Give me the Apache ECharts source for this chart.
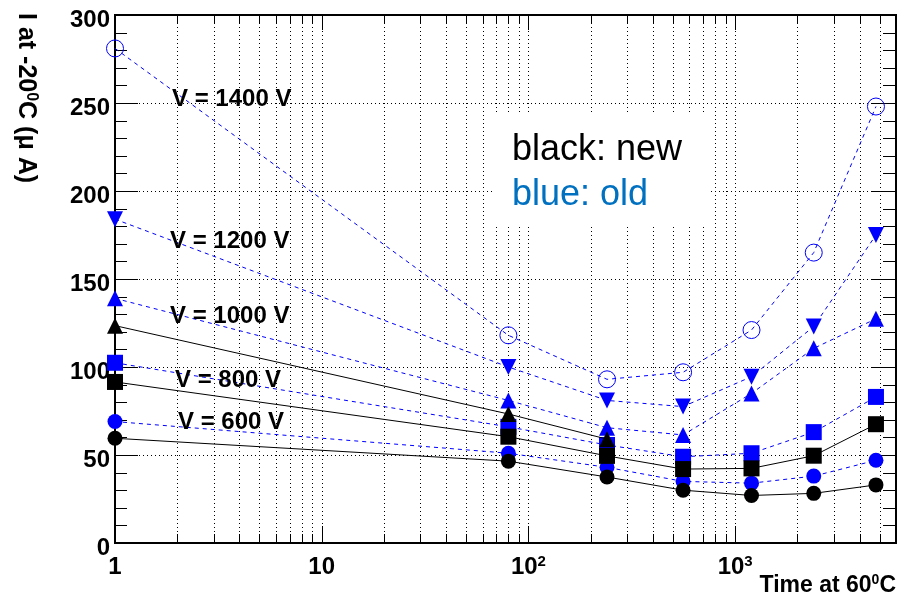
<!DOCTYPE html>
<html>
<head>
<meta charset="utf-8">
<script src="https://cdn.jsdelivr.net/npm/echarts@6/dist/echarts.min.js"></script>
<style>
html,body{margin:0;padding:0;background:#fff;}
#chart{width:899px;height:605px;}
</style>
</head>
<body>
<div id="chart"></div>
<script>
// ---- data ----
const times = [1, 80, 240, 560, 1200, 2400, 4800];
const timesNew1000 = [1, 80, 240];

// old sensors (blue)
const old1400 = [281, 118, 93, 97, 121, 165, 248];
const old1200 = [184, 100, 81, 77.5, 94.5, 123, 175];
const old1000 = [139, 81, 65.5, 61.4, 85, 110.6, 127.4];
const old800  = [102.4, 66, 55.7, 49, 51, 63, 83];
const old600  = [69, 51, 43, 35, 34, 38, 47];

// new sensors (black)
const new1000 = [123.5, 73.3, 59];
const new800  = [91.5, 60.4, 49.5, 42, 42.4, 49.6, 67.5];
const new600  = [59.5, 46.5, 37.5, 30, 27, 28.2, 33];

const voltageLabels = ['V = 1400 V', 'V = 1200 V', 'V = 1000 V', 'V = 800 V', 'V = 600 V'];
const legendLines = ['black: new', 'blue: old'];
const xTitle = 'Time at 60';
const yTitle = 'I at -20';

// ---- helpers ----
const FONT = '"Liberation Sans", Arial, Helvetica, sans-serif';
const BLUE = '#0000ff';
function pairs(xs, ys){ return ys.map((y,i)=>[xs[i], y]); }

// tick positions (decoration)
const xTicks = [];
for (let e = 0; e <= 3; e++) {
  for (let m = 1; m <= 9; m++) {
    const v = m * Math.pow(10, e);
    if (v === 1 || v > 6000) continue;
    xTicks.push([v, 100, m === 1 ? 1 : 0]);
  }
}
const yTicks = [];
for (let v = 10; v < 300; v += 10) yTicks.push([1, v, v % 50 === 0 ? 1 : 0]);

function px(v){ return Math.round(v) + 0.5; }

function renderXGrid(params, api){
  const cs = params.coordSys;
  const x = px(api.coord([api.value(0), 100])[0]);
  const major = api.value(2);
  const top = cs.y, bot = cs.y + cs.height;
  const lb = major ? 17 : 9, lt = major ? 15 : 8;
  return {type:'group', children:[
    {type:'line', shape:{x1:x,y1:top,x2:x,y2:bot}, style:{stroke:'#000', lineWidth:1, lineDash:[1,3]}},
    {type:'line', shape:{x1:x,y1:bot,x2:x,y2:bot-lb}, style:{stroke:'#000', lineWidth:1}},
    {type:'line', shape:{x1:x,y1:top,x2:x,y2:top+lt}, style:{stroke:'#000', lineWidth:1}}
  ]};
}
function renderYGrid(params, api){
  const cs = params.coordSys;
  const y = px(api.coord([1, api.value(1)])[1]);
  const major = api.value(2);
  const l = cs.x, r = cs.x + cs.width;
  const ll = major ? 23 : 12, lr = major ? 25 : 13;
  const ch = [
    {type:'line', shape:{x1:l,y1:y,x2:l+ll,y2:y}, style:{stroke:'#000', lineWidth:1}},
    {type:'line', shape:{x1:r,y1:y,x2:r-lr,y2:y}, style:{stroke:'#000', lineWidth:1}}
  ];
  if (major) ch.unshift({type:'line', shape:{x1:l,y1:y,x2:r,y2:y}, style:{stroke:'#000', lineWidth:1, lineDash:[1,3]}});
  return {type:'group', children: ch};
}

function oldSeries(name, data, symbol, size, rotate, empty){
  return {
    name, type:'line', data: pairs(times, data), symbol, symbolSize: size, symbolRotate: rotate||0,
    clip:false, z:3,
    lineStyle:{color:BLUE, width:1, type:[4,4]},
    itemStyle: empty ? {color:'rgba(0,0,0,0)', borderColor:BLUE, borderWidth:1} : {color:BLUE},
    emphasis:{disabled:true}
  };
}
function newSeries(name, xs, data, symbol, size){
  return {
    name, type:'line', data: pairs(xs, data), symbol, symbolSize: size,
    clip:false, z:4,
    lineStyle:{color:'#000', width:1},
    itemStyle:{color:'#000'},
    emphasis:{disabled:true}
  };
}

const supRich = {
  b: {fontFamily:FONT, fontWeight:'bold', fontSize:24, color:'#000', verticalAlign:'bottom', lineHeight:26},
  s: {fontFamily:FONT, fontWeight:'bold', fontSize:15, color:'#000', verticalAlign:'bottom', padding:[0,0,10,0], lineHeight:26}
};

const vLabelPos = [[172,99],[170,241],[170,316],[175,380],[178,422]];

const chart = echarts.init(document.getElementById('chart'), null, {renderer:'canvas'});
chart.setOption({
  animation:false,
  backgroundColor:'#fff',
  grid:{left:115, right:3, top:15, bottom:62, show:true, borderColor:'#000', borderWidth:2, backgroundColor:'transparent'},
  xAxis:{
    type:'log', logBase:10, min:1, max:6000,
    axisLine:{show:false}, axisTick:{show:false}, splitLine:{show:false},
    axisLabel:{
      margin:10, showMaxLabel:false,
      formatter:function(v){
        const e = Math.round(Math.log10(v));
        if (e === 0) return '{b|1}';
        if (e === 1) return '{b|10}';
        return '{b|10}{s|' + e + '}';
      },
      rich: supRich
    }
  },
  yAxis:{
    type:'value', min:0, max:300, interval:50,
    axisLine:{show:false}, axisTick:{show:false}, splitLine:{show:false},
    axisLabel:{
      margin:5,
      formatter:function(v){ return '{a|' + v + '}'; },
      rich:{a:{fontFamily:FONT, fontWeight:'bold', fontSize:24, color:'#000', padding:[11,0,0,0]}}
    }
  },
  series:[
    {type:'custom', renderItem:renderXGrid, data:xTicks, encode:{x:0,y:1}, z:1, silent:true, clip:false},
    {type:'custom', renderItem:renderYGrid, data:yTicks, encode:{x:0,y:1}, z:1, silent:true, clip:false},
    oldSeries('old 1400', old1400, 'circle', 17, 0, true),
    oldSeries('old 1200', old1200, 'triangle', 16, 180),
    oldSeries('old 1000', old1000, 'triangle', 16, 0),
    oldSeries('old 800', old800, 'rect', 16, 0),
    oldSeries('old 600', old600, 'circle', 15, 0),
    newSeries('new 1000', timesNew1000, new1000, 'triangle', 16),
    newSeries('new 800', times, new800, 'rect', 16),
    newSeries('new 600', times, new600, 'circle', 15)
  ],
  graphic:[
    ...voltageLabels.map((t,i)=>({
      type:'text', x:vLabelPos[i][0], y:vLabelPos[i][1], z:50,
      style:{text:t, fontFamily:FONT, fontWeight:'bold', fontSize:24, fill:'#000', textAlign:'left', textVerticalAlign:'middle'}
    })),
    {type:'rect', shape:{x:492, y:115, width:217, height:112}, style:{fill:'#fff'}, z:40},
    {type:'text', x:512, y:150, z:50, style:{text:legendLines[0], fontFamily:FONT, fontSize:36, fill:'#000', textAlign:'left', textVerticalAlign:'middle'}},
    {type:'text', x:512, y:195, z:50, style:{text:legendLines[1], fontFamily:FONT, fontSize:36, fill:'#0070c0', textAlign:'left', textVerticalAlign:'middle'}},
    {type:'text', x:896, y:584, z:50, style:{
      text:'{b|' + xTitle + '}{s|0}{b|C}', textAlign:'right', textVerticalAlign:'middle',
      rich:{
        b:{fontFamily:FONT, fontWeight:'bold', fontSize:23, fill:'#000', verticalAlign:'bottom', lineHeight:26},
        s:{fontFamily:FONT, fontWeight:'bold', fontSize:14, fill:'#000', verticalAlign:'bottom', padding:[0,0,10,0], lineHeight:26}
      }}},
    {type:'text', x:27, y:13, rotation:-Math.PI/2, z:50, style:{
      text:'{b|' + yTitle + '}{s|0}{b|C (\u03bc A)}', textAlign:'left', textVerticalAlign:'middle',
      rich:{
        b:{fontFamily:FONT, fontWeight:'bold', fontSize:25, fill:'#000', verticalAlign:'bottom', lineHeight:28},
        s:{fontFamily:FONT, fontWeight:'bold', fontSize:16, fill:'#000', verticalAlign:'bottom', padding:[0,0,10,0], lineHeight:28}
      }}}
  ]
});
</script>
</body>
</html>
